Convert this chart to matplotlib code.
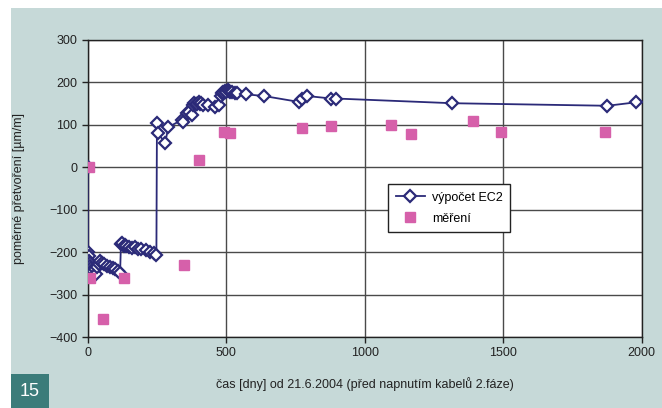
import matplotlib
matplotlib.use("Agg")
import matplotlib.pyplot as plt
from matplotlib.patches import Rectangle

plt.rcParams['font.family'] = ['Liberation Sans', 'DejaVu Sans']

# výpočet EC2 (days, strain)
calc_t = [0, 1, 3, 5, 8, 10, 12, 15, 20, 25, 30, 35, 40, 45, 50, 60, 70, 80, 90, 100, 110, 117,
          120, 125, 130, 135, 140, 150, 160, 170, 180, 194, 210, 225, 240, 248,
          250, 253, 280, 291, 339, 345, 357, 365, 375, 381, 385, 390, 395, 400, 405, 410, 417,
          435, 459, 475, 480, 485, 490, 495, 500, 505, 510, 515, 520, 531, 540, 571, 636,
          763, 775, 792, 880, 898, 1316, 1876, 1978]
calc_v = [0, -200, -210, -220, -225, -232, -238, -242, -245, -240, -252, -235, -228, -222, -225,
          -228, -232, -235, -237, -240, -245, -248,
          -180, -178, -185, -183, -186, -188, -190, -187, -192, -193, -196, -199, -203, -207,
          105, 80, 58, 95, 111, 107, 127, 131, 123, 146, 152, 150, 148, 155, 149, 152, 146,
          146, 143, 146, 168, 176, 178, 180, 178, 181, 179, 178, 177, 176, 174, 172, 168,
          154, 162, 168, 162, 162, 151, 145, 153]

# měření
meas_t = [4, 8, 54, 132, 346, 401, 492, 513, 774, 879, 1094, 1166, 1390, 1491, 1869]
meas_v = [0, -261, -358, -262, -230, 17, 83, 80, 93, 98, 100, 78, 109, 82, 82]

navy = '#2b2a78'
pink = '#d660aa'
teal = '#c6d9d8'

fig = plt.figure(figsize=(6.62, 4.08), dpi=100)
fig.patch.set_facecolor('white')
fig.patches.append(Rectangle((11 / 662, 0), 1 - 11 / 662, 1 - 8 / 408,
                             transform=fig.transFigure, facecolor=teal,
                             edgecolor='none', zorder=-10))
fig.patches.append(Rectangle((11 / 662, 0), 38 / 662, 34 / 408,
                             transform=fig.transFigure, facecolor='#3b7c7a',
                             edgecolor='none', zorder=-9))
fig.text(30 / 662, 17 / 408, '15', color='white', fontsize=13,
         ha='center', va='center')

ax = fig.add_axes([87.7 / 662, 1 - 337 / 408, 554 / 662, 297 / 408])
ax.set_facecolor('white')

ax.plot(calc_t, calc_v, color=navy, linewidth=1.3, marker='D', markersize=6,
        markerfacecolor='white', markeredgecolor=navy, markeredgewidth=1.6,
        label='výpočet EC2', zorder=3)
ax.plot(meas_t, meas_v, linestyle='none', marker='s', markersize=7,
        color=pink, markeredgecolor=pink, label='měření', zorder=4)

ax.set_xlim(0, 2000)
ax.set_ylim(-400, 300)
ax.set_xticks([0, 500, 1000, 1500, 2000])
ax.set_yticks(range(-400, 301, 100))
ax.grid(True, color='#4a4a4a', linewidth=1)
ax.set_axisbelow(True)
for s in ax.spines.values():
    s.set_color('#222222')
    s.set_linewidth(1)
ax.tick_params(labelsize=9, colors='#222222', length=4, width=1, direction='out')

ax.set_xlabel('čas [dny] od 21.6.2004 (před napnutím kabelů 2.fáze)', fontsize=9,
              color='#222222', labelpad=13)
ax.set_ylabel('poměrné přetvoření [µm/m]', fontsize=9, color='#222222', labelpad=17)

leg = ax.legend(loc='upper left', bbox_to_anchor=(0.5426, 0.514), fontsize=9,
                frameon=True, fancybox=False, borderaxespad=0, handlelength=2.3,
                borderpad=0.6, labelspacing=0.7, handletextpad=0.6)
leg.get_frame().set_edgecolor('#222222')
leg.get_frame().set_linewidth(1)
leg.get_frame().set_facecolor('white')
leg.get_frame().set_alpha(1)

fig.savefig('out.png', dpi=100)
